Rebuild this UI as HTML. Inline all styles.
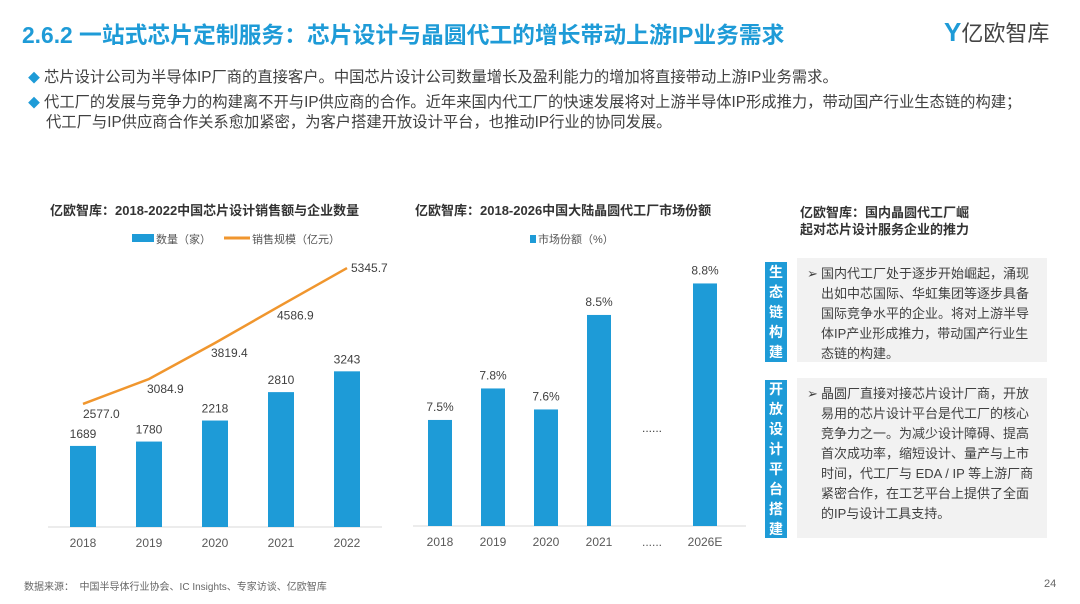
<!DOCTYPE html>
<html><head><meta charset="utf-8"><style>
body{margin:0;width:1080px;height:604px;background:#fff;position:relative;overflow:hidden;font-family:"Liberation Sans","Noto Sans CJK SC",sans-serif;color:#404040}
.a{position:absolute;white-space:nowrap}
.title{left:22px;top:17px;font-size:22.8px;font-weight:bold;color:#1e9bd7}
.b{font-size:15.3px;color:#404040}
.dia{color:#1e9bd7;font-size:12px;margin-right:4px}
.sbox{position:absolute;background:#1e9bd7;color:#fff;font-weight:bold;font-size:14px;width:22px;text-align:center;line-height:20px;display:flex;flex-direction:column;justify-content:center}
.gbox{position:absolute;background:#f2f2f2;font-size:13px;line-height:20px;color:#404040;padding:6px 10px 0 24px;box-sizing:border-box}
</style></head><body>
<div class="a title">2.6.2 一站式芯片定制服务：芯片设计与晶圆代工的增长带动上游IP业务需求</div>
<div class="a" style="left:944px;top:16px;font-size:22px;color:#444"><span style="color:#1e9bd7;font-weight:bold;font-size:26px">Y</span>亿欧智库</div>
<div class="a b" style="left:28px;top:65px"><span class="dia">◆</span>芯片设计公司为半导体IP厂商的直接客户。中国芯片设计公司数量增长及盈利能力的增加将直接带动上游IP业务需求。</div>
<div class="a b" style="left:28px;top:90px"><span class="dia">◆</span>代工厂的发展与竞争力的构建离不开与IP供应商的合作。近年来国内代工厂的快速发展将对上游半导体IP形成推力，带动国产行业生态链的构建；</div>
<div class="a b" style="left:46px;top:110px">代工厂与IP供应商合作关系愈加紧密，为客户搭建开放设计平台，也推动IP行业的协同发展。</div>

<svg id="c1" class="a" style="left:0;top:0" width="1080" height="604"></svg>

<div class="a" style="left:800px;top:204px;font-size:13px;font-weight:bold;line-height:17px;color:#333">亿欧智库：国内晶圆代工厂崛<br>起对芯片设计服务企业的推力</div>
<div class="sbox" style="left:765px;top:262px;height:100px">生<br>态<br>链<br>构<br>建</div>
<div class="gbox" style="left:797px;top:258px;width:250px;height:104px"><span style="position:absolute;left:10px">➢</span>国内代工厂处于逐步开始崛起，涌现出如中芯国际、华虹集团等逐步具备国际竞争水平的企业。将对上游半导体IP产业形成推力，带动国产行业生态链的构建。</div>
<div class="sbox" style="left:765px;top:380px;height:158px">开<br>放<br>设<br>计<br>平<br>台<br>搭<br>建</div>
<div class="gbox" style="left:797px;top:378px;width:250px;height:160px"><span style="position:absolute;left:10px">➢</span>晶圆厂直接对接芯片设计厂商，开放易用的芯片设计平台是代工厂的核心竞争力之一。为减少设计障碍、提高首次成功率，缩短设计、量产与上市时间，代工厂与 EDA / IP 等上游厂商紧密合作，在工艺平台上提供了全面的IP与设计工具支持。</div>
<div class="a" style="left:24px;top:578px;font-size:10px;color:#666">数据来源：&nbsp;&nbsp;中国半导体行业协会、IC Insights、专家访谈、亿欧智库</div>
<div class="a" style="left:1044px;top:578px;font-size:11px;color:#666">24</div>

<script>
const years1=["2018","2019","2020","2021","2022"];
const counts=[1689,1780,2218,2810,3243];
const sales=[2577.0,3084.9,3819.4,4586.9,5345.7];
const years2=["2018","2019","2020","2021","......","2026E"];
const shares=[7.5,7.8,7.6,8.5,null,8.8];
const shareLabels=["7.5%","7.8%","7.6%","8.5%","......","8.8%"];
const NS="http://www.w3.org/2000/svg";
const svg=document.getElementById('c1');
function el(t,a,txt){const e=document.createElementNS(NS,t);for(const k in a)e.setAttribute(k,a[k]);if(txt!=null)e.textContent=txt;svg.appendChild(e);return e;}
const F='"Liberation Sans","Noto Sans CJK SC",sans-serif';
const blue="#1e9bd7",org="#f0962e";
// chart 1
const x1=i=>83+i*66, yb=v=>527-v*0.048, yl=v=>530.5-v*0.0491;
let t=el('text',{x:50,y:215,'font-size':13,'font-weight':'bold',fill:'#333','font-family':F},'亿欧智库：2018-2022中国芯片设计销售额与企业数量');

let r=el('rect',{x:132,y:234,width:22,height:8,fill:blue});
t=el('text',{x:156,y:243,'font-size':11,fill:'#555','font-family':F},'数量（家）');
r=el('line',{x1:224,y1:238,x2:250,y2:238,stroke:org,'stroke-width':3});
t=el('text',{x:252,y:243,'font-size':11,fill:'#555','font-family':F},'销售规模（亿元）');
el('line',{x1:48,y1:527,x2:382,y2:527,stroke:'#d9d9d9'});
years1.forEach((y,i)=>{
 const b=el('rect',{x:x1(i)-13,y:yb(counts[i]),width:26,height:527-yb(counts[i]),fill:blue});
 
 const l=el('text',{x:x1(i),y:yb(counts[i])-8,'text-anchor':'middle','font-size':12,fill:'#404040','font-family':F},String(counts[i]));
 
 const xl=el('text',{x:x1(i),y:547,'text-anchor':'middle','font-size':12,fill:'#595959','font-family':F},y);
 
});
const pl=el('polyline',{points:sales.map((v,i)=>x1(i)+','+yl(v)).join(' '),fill:'none',stroke:org,'stroke-width':2.5});

sales.forEach((v,i)=>{
 const l=el('text',{x:x1(i)+(i==4?4:(i==0?0:-2)),y:yl(v)+(i==4?4:14),'text-anchor':'start','font-size':12,fill:'#404040','font-family':F},v.toFixed(1));
 if(i>0&&i<4)l.setAttribute('x',x1(i)-4+(i==1?2:0));
 
});
// chart 2
const x2=i=>440+i*53, y2=v=>526-(v-6.49)*105;
t=el('text',{x:415,y:215,'font-size':13,'font-weight':'bold',fill:'#333','font-family':F},'亿欧智库：2018-2026中国大陆晶圆代工厂市场份额');

r=el('rect',{x:530,y:235,width:6,height:8,fill:blue});
t=el('text',{x:538,y:243,'font-size':11,fill:'#555','font-family':F},'市场份额（%）');
el('line',{x1:413,y1:526,x2:746,y2:526,stroke:'#d9d9d9'});
years2.forEach((y,i)=>{
 const v=shares[i];
 if(v!=null){
  const b=el('rect',{x:x2(i)-12,y:y2(v),width:24,height:526-y2(v),fill:blue});
  
 }
 const l=el('text',{x:x2(i),y:v!=null?y2(v)-9:432,'text-anchor':'middle','font-size':12,fill:'#404040','font-family':F},shareLabels[i]);
 
 const xl=el('text',{x:x2(i),y:546,'text-anchor':'middle','font-size':12,fill:'#595959','font-family':F},y);
 
});
</script>
</body></html>
